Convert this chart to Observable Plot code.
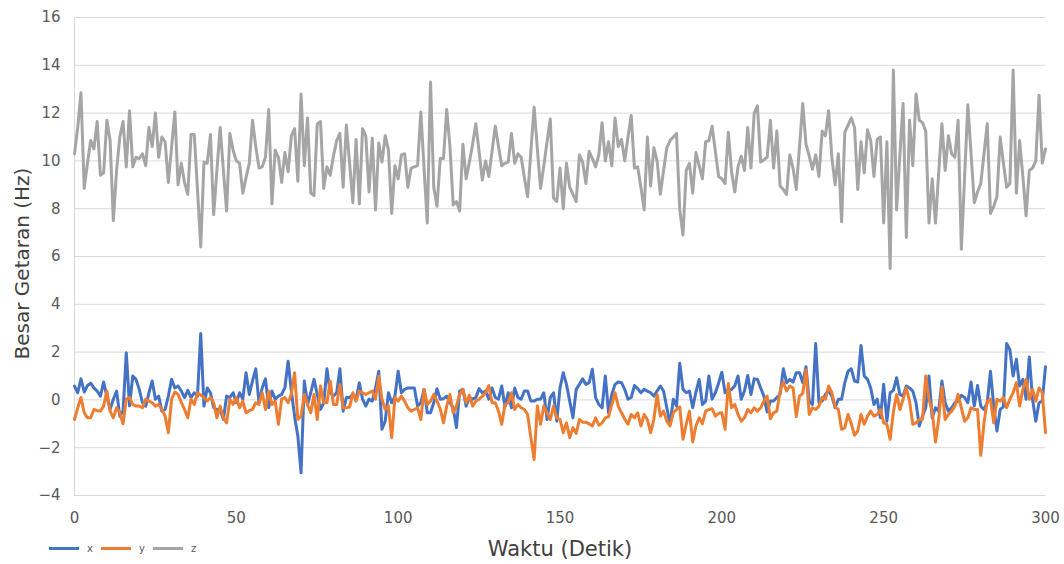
<!DOCTYPE html>
<html>
<head>
<meta charset="utf-8">
<script src="https://cdn.jsdelivr.net/npm/d3@7"></script>
<script src="https://cdn.jsdelivr.net/npm/@observablehq/plot@0.6"></script>
<style>
  body { margin: 0; background: #fff; font-family: "DejaVu Sans", sans-serif; }
  #wrap { position: relative; width: 1064px; height: 564px; overflow: hidden; }
  .leg { position: absolute; top: 541px; height: 14px; display: flex; align-items: center; font-size: 10px; color: #595959; }
  .sw { width: 30px; height: 3px; margin-right: 8px; }
</style>
</head>
<body>
<div id="wrap"></div>
<script>
// Series names / colors
const seriesNames = ["x", "y", "z"];
const seriesColors = ["#4472C4", "#ED7D31", "#A5A5A5"];
const yTicks = [-4, -2, 0, 2, 4, 6, 8, 10, 12, 14, 16];
const xTicks = [0, 50, 100, 150, 200, 250, 300];

// x series (one value per second, 0..300)
const xVals = [
  0.58, 0.3, 0.88, 0.33, 0.6, 0.7, 0.5, 0.37, 0.15, 0.75,
  0.15, -0.4, 0.03, 0.37, -0.68, -0.47, 1.97, -0.25, 1.0, 0.86,
  0.44, -0.12, -0.26, 0.3, 0.79, 0.03, 0.16, -0.47, -0.4, 0.16,
  0.86, 0.5, 0.58, 0.37, 0.1, 0.4, 0.1, 0.3, 0.16, 2.78,
  -0.26, 0.5, 0.3, -0.33, -0.4, -0.4, -0.82, 0.16, 0.1, 0.3,
  -0.12, 0.3, 0.03, 1.14, 0.23, 0.8, 1.3, -0.12, 0.5, 0.88,
  -0.33, 0.37, 0.03, 0.16, 0.23, 0.5, 1.62, 0.37, -0.68, -1.51,
  -3.05, 0.79, -0.19, 0.3, 0.86, 0.23, -0.4, -0.12, 1.3, 0.3,
  0.16, 0.3, 1.3, -0.47, 0.1, 0.1, 0.23, 0.03, 0.72, 0.03,
  -0.26, 0.03, -0.05, 0.5, 1.2, -1.23, -0.89, 0.3, -0.12, 0.16,
  1.2, 0.3, 0.44, 0.5, 0.5, 0.5, -0.26, -0.12, 0.44, -0.54,
  -0.54, -0.12, 0.47, 0.03, 0.05, 0.16, -0.12, -0.33, -1.16, 0.37,
  0.44, -0.26, 0.1, 0.03, 0.1, 0.47, 0.3, 0.37, 0.03, 0.5,
  0.1, 0.03, 0.58, -0.29, 0.3, -0.33, 0.5, 0.1, 0.03, 0.37,
  0.37, -0.05, -0.05, 0.03, 0.03, 0.3, -0.82, 0.1, 0.3, -0.89,
  0.5, 1.14, 0.65, -0.05, -0.75, 0.44, 0.65, 0.88, 0.65, 0.72,
  1.28, 0.1, -0.19, -0.33, 1.0, -0.54, 0.23, 0.65, 0.75, 0.72,
  0.44, 0.03, 0.1, 0.6, 0.47, 0.3, 0.44, 0.37, 0.3, 0.16,
  0.37, 0.58, 0.37, -0.33, -1.02, 0.03, -0.26, 1.53, 0.44, 0.3,
  0.37, -0.33, 0.33, 0.86, -0.19, -0.05, 1.0, 0.03, 0.3, 0.7,
  1.16, 0.3, 0.44, 0.44, 0.58, 1.0, 0.03, 0.37, 1.02, 0.23,
  0.88, 0.86, 0.5, 0.16, -0.5, -0.05, -0.05, 0.1, 0.23, 1.3,
  0.72, 0.86, 0.75, 1.14, 1.14, 0.72, 1.39, -0.05, -0.19, 2.36,
  -0.12, -0.05, 0.23, 0.37, 0.16, -0.33, 0.03, 0.03, 0.72, 1.2,
  1.3, 0.79, 0.75, 2.28, 1.0, 0.86, 0.5, -0.19, 0.03, -0.75,
  0.65, -0.89, 0.3, 0.4, 0.93, 0.23, 0.16, 0.58, 0.5, 0.37,
  -0.12, -1.09, -0.68, -0.33, 1.0, -0.75, -0.33, -0.47, 0.79, -0.12,
  -0.47, -0.33, -0.12, -0.05, 0.19, 0.1, -0.12, 0.75, -0.26, 0.6,
  -0.26, -0.4, -0.12, 1.2, -0.26, -1.3, -0.4, -0.29, 2.36, 2.1,
  1.0, 1.7, 0.58, 0.86, 0.03, 1.8, 0.03, -0.89, -0.12, -0.05,
  1.39
];

// y series
const yVals = [
  -0.82, -0.33, 0.1, -0.54, -0.75, -0.75, -0.4, -0.45, -0.47, -0.26,
  0.37, -0.47, -0.75, -0.33, -0.54, -1.0, 0.03, 0.1, -0.19, -0.26,
  -0.26, -0.33, 0.03, -0.05, -0.12, -0.26, -0.19, -0.4, -0.68, -1.37,
  0.03, 0.33, 0.23, -0.1, -0.4, -0.75, 0.03, -0.19, 0.3, 0.2,
  0.1, -0.05, 0.1, -0.12, -0.75, -0.26, -0.75, -0.96, 0.03, -0.19,
  0.1, -0.33, -0.05, -0.54, -0.45, -0.4, -0.12, -0.19, 0.3, -0.4,
  0.37, -0.19, -0.05, -1.02, 0.03, 0.1, -0.12, 0.23, 1.14, -0.82,
  -0.68, 0.23, -0.19, -0.54, 0.23, -0.82, 0.58, -0.12, -0.12, 0.79,
  -0.19, -0.19, 0.65, -0.33, -0.33, -0.3, 0.3, -0.05, 0.37, 0.3,
  0.23, 0.3, 0.37, 0.03, 1.0, 0.03, -0.4, -0.26, -1.58, 0.1,
  -0.05, 0.16, -0.05, -0.33, -0.47, -0.4, -0.33, -0.82, 0.44, -0.19,
  -0.05, 0.23, -0.05, -0.37, -0.96, -0.26, 0.23, -0.54, -0.26, 0.23,
  0.44, -0.12, 0.2, -0.26, -0.05, 0.03, 0.15, 0.3, 0.6, -0.12,
  -0.12, -0.47, -1.02, -0.19, -0.12, 0.3, -0.4, -0.19, -0.33, -0.4,
  -0.61, -1.58, -2.49, -0.26, -1.02, -0.26, -0.54, -0.82, -0.26, -0.75,
  -0.82, -1.37, -0.96, -1.58, -1.16, -1.4, -0.82, -0.93, -0.93, -1.0,
  -1.09, -0.75, -1.06, -0.96, -0.75, -0.7, -0.2, 0.3, -0.26, -0.54,
  -0.8, -1.02, -0.61, -0.75, -0.54, -1.09, -0.61, -0.82, -1.37, -0.82,
  0.23, -0.68, -0.47, -0.89, -1.09, -0.54, -0.4, -0.29, -1.65, -1.02,
  -0.47, -1.76, -1.09, -0.75, -1.0, -0.47, -0.4, -0.37, -0.68, -0.56,
  -0.54, -1.23, 0.69, -0.33, -0.19, -0.61, -0.89, -0.75, -0.4, -0.54,
  -0.33, -0.47, -0.33, -0.05, 0.16, -0.79, -0.54, -0.47, 0.37, 0.75,
  0.37, 0.58, 0.5, -0.7, 0.16, 0.27, 1.25, -0.61, -0.33, -0.4,
  -0.26, 0.1, 0.03, 0.58, 0.3, -0.29, -0.4, -1.23, -1.16, -0.61,
  -1.0, -1.48, -1.3, -0.61, -1.02, -0.68, -0.47, -0.68, -0.61, -0.4,
  -0.96, -1.02, -1.65, -0.5, 0.23, -0.4, 0.03, 0.5, -0.05, -1.02,
  -0.96, -0.82, -0.82, 1.0, 0.03, -0.47, -1.76, -0.82, 0.55, -0.82,
  -0.61, -0.47, -0.26, 0.23, -0.33, -0.89, -0.75, -0.33, -0.4, -0.4,
  -2.32, -0.96, -0.05, 0.03, -0.96, 0.03, -0.05, 0.1, -0.33, 0.03,
  0.3, 0.72, -0.26, 0.44, 0.86, 0.03, 0.44, -0.05, 0.5, 0.3,
  -1.37
];

// z series
const zVals = [
  10.3, 11.4, 12.85, 8.85, 9.9, 10.85, 10.5, 11.65, 9.4, 9.5,
  11.7, 10.85, 7.5, 9.6, 11.0, 11.65, 9.75, 12.1, 9.75, 10.15,
  10.1, 10.3, 9.8, 11.4, 10.6, 12.0, 10.15, 11.0, 10.8, 9.1,
  10.6, 12.05, 9.0, 9.9, 9.1, 8.6, 11.1, 11.1, 8.8, 6.4,
  9.95, 9.9, 11.1, 7.75, 9.6, 11.4, 9.6, 7.9, 11.15, 10.45,
  10.0, 9.9, 8.65, 9.3, 9.9, 11.7, 10.6, 9.7, 9.75, 10.15,
  12.15, 8.2, 10.45, 10.15, 9.1, 10.35, 9.55, 11.05, 11.35, 9.15,
  12.8, 9.8, 11.8, 8.65, 8.55, 11.55, 11.65, 8.85, 9.75, 9.4,
  10.2, 10.85, 11.15, 8.9, 11.5, 9.9, 8.25, 10.9, 8.2, 11.35,
  11.05, 8.7, 10.95, 7.95, 10.75, 9.95, 11.05, 10.45, 7.8, 9.8,
  9.25, 10.25, 10.3, 8.9, 9.7, 9.75, 9.8, 12.05, 9.7, 7.4,
  13.3, 8.9, 8.1, 10.1, 10.1, 12.15, 10.6, 8.15, 8.3, 7.9,
  10.7, 9.25, 9.95, 10.7, 11.55, 10.4, 9.2, 10.0, 9.35, 10.4,
  11.45, 10.6, 9.8, 9.9, 9.95, 11.15, 9.9, 10.3, 10.15, 9.3,
  8.5, 10.4, 12.25, 10.5, 8.85, 9.8, 10.8, 11.75, 8.45, 8.3,
  9.7, 8.0, 9.9, 8.9, 8.6, 8.3, 10.25, 9.95, 9.05, 10.4,
  10.1, 9.75, 10.25, 11.6, 10.0, 10.8, 9.8, 11.8, 10.6, 10.9,
  10.0, 11.0, 11.9, 9.7, 9.75, 8.9, 7.95, 11.0, 8.95, 10.55,
  10.0, 8.6, 9.6, 10.55, 10.85, 11.0, 11.15, 7.95, 6.9, 9.6,
  9.9, 8.65, 10.35, 9.8, 9.25, 10.8, 10.85, 11.45, 10.4, 9.35,
  9.25, 9.05, 11.2, 9.55, 8.7, 9.75, 10.2, 9.6, 11.4, 9.7,
  12.0, 12.3, 9.95, 10.05, 10.15, 11.7, 9.7, 11.25, 8.95, 8.8,
  8.6, 10.25, 9.7, 8.8, 10.6, 12.4, 10.7, 10.2, 9.65, 10.25,
  9.35, 11.25, 11.05, 12.1, 10.15, 9.0, 10.3, 7.45, 11.2, 11.5,
  11.8, 11.4, 8.8, 10.8, 9.5, 11.3, 10.85, 9.35, 10.9, 11.0,
  7.4, 10.8, 5.5, 13.8, 7.95, 10.2, 12.4, 6.8, 11.7, 9.8,
  12.8, 11.7, 11.6, 11.25, 7.4, 9.25, 7.4, 9.5, 11.55, 9.6,
  11.05, 10.3, 10.15, 11.7, 6.3, 9.3, 12.35, 10.3, 8.25, 8.7,
  9.05, 10.3, 11.55, 7.8, 8.1, 8.5, 11.0, 9.9, 8.9, 9.05,
  13.8, 8.65, 10.85, 9.35, 7.7, 9.6, 9.7, 10.0, 12.75, 9.9,
  10.5
];

const allVals = [xVals, yVals, zVals];

const lineMarks = allVals.map((vals, k) =>
  Plot.line(vals, {
    x: (d, i) => i,
    y: (d) => d,
    stroke: seriesColors[k],
    strokeWidth: 3,
    strokeLinejoin: "round",
    strokeLinecap: "round"
  })
);

const chart = Plot.plot({
  width: 1064,
  height: 564,
  marginLeft: 74,
  marginRight: 19,
  marginTop: 17,
  marginBottom: 69,
  x: { domain: [0, 300] },
  y: { domain: [-4, 16] },
  style: { fontFamily: "DejaVu Sans, sans-serif", fontSize: "15px", color: "#595959", background: "#fff" },
  marks: [
    Plot.gridY(yTicks, { stroke: "#d9d9d9", strokeOpacity: 1, strokeWidth: 1 }),
    Plot.ruleX([0], { stroke: "#d9d9d9", strokeWidth: 1 }),
    Plot.axisY(yTicks, { tickSize: 0, tickPadding: 14, label: null, fontSize: 15, fill: "#595959" }),
    Plot.axisX(xTicks, { tickSize: 0, tickPadding: 17, label: null, fontSize: 15, fill: "#595959" }),
    ...lineMarks,
    Plot.text(["Besar Getaran (Hz)"], { frameAnchor: "left", textAnchor: "middle", lineAnchor: "middle", dx: -52, dy: 7, rotate: -90, fontSize: 20, fill: "#404040" }),
    Plot.text(["Waktu (Detik)"], { frameAnchor: "bottom", textAnchor: "middle", lineAnchor: "middle", dy: 54, fontSize: 21, fill: "#404040" })
  ]
});

const wrap = document.getElementById("wrap");
wrap.appendChild(chart);

// legend
const legLeft = [49, 101, 153];
seriesNames.forEach((name, k) => {
  const item = document.createElement("div");
  item.className = "leg";
  item.style.left = legLeft[k] + "px";
  const sw = document.createElement("div");
  sw.className = "sw";
  sw.style.background = seriesColors[k];
  item.appendChild(sw);
  const t = document.createElement("span");
  t.textContent = name;
  item.appendChild(t);
  wrap.appendChild(item);
});
</script>
</body>
</html>
